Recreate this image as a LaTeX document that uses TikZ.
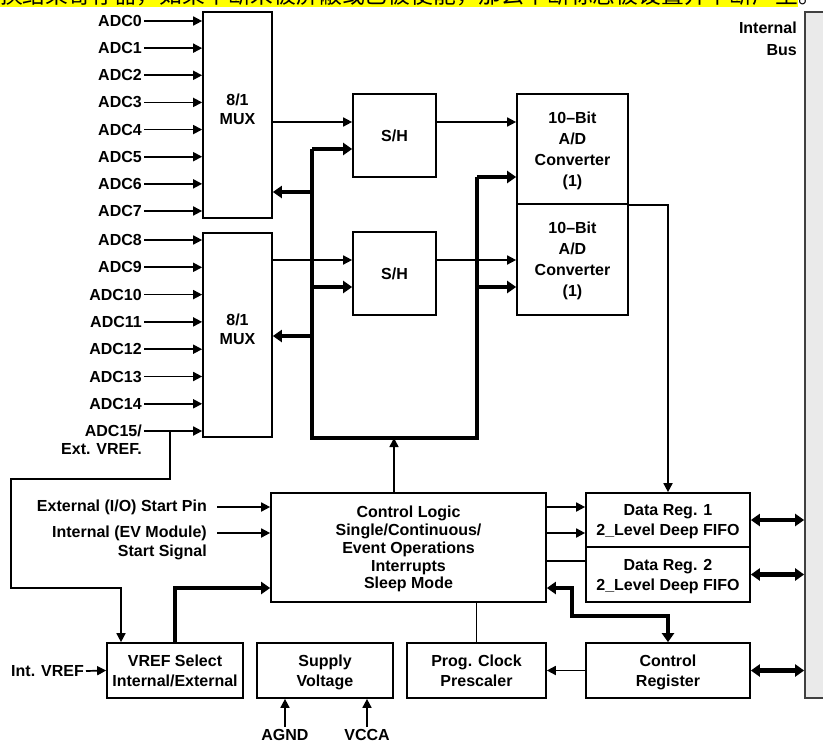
\documentclass[tikz,border=0pt]{standalone}
\usepackage{fontspec}
\setmainfont{Liberation Sans}
\newfontfamily\cjk{Noto Sans CJK SC}
\usetikzlibrary{positioning, arrows.meta, calc}
\definecolor{notecolor}{RGB}{255, 255, 0}
\definecolor{buscolor}{RGB}{234, 234, 234}
\newcommand{\diagfont}{\bfseries\fontsize{16}{19}\selectfont}

\begin{document}
\begin{tikzpicture}[x=1pt, y=-1pt,
    blk/.style={draw, line width=1.7pt, inner sep=0pt, align=center, font=\diagfont},
    lbl/.style={inner sep=2pt, font=\diagfont},
    sig/.style={line width=1.7pt, -{Triangle[length=9pt, width=9pt]}},
    wire/.style={line width=1.7pt},
    fat/.style={line width=4.2pt, -{Triangle[length=9pt, width=12pt]}},
    fatwire/.style={line width=4.2pt},
    fatboth/.style={line width=4.2pt, {Triangle[length=9pt, width=12pt]}-{Triangle[length=9pt, width=12pt]}}]
  \useasboundingbox (0,0) rectangle (823,742);

  % cut-off note line at the top
  \fill[notecolor] (0,0) rectangle (798,7);
  \begin{scope}
    \clip (0,0) rectangle (823,7);
    \node[anchor=base west, inner sep=0pt, font=\cjk\fontsize{22.8}{22.8}\selectfont] (note) at (0,3.5)
      {换结果寄存器，如果中断未被屏蔽或已被使能，那么中断标志被设置并中断产生。};
  \end{scope}

  % multiplexers, sample/hold, converters
  \node[blk, minimum width=69pt, minimum height=206pt, text depth=12pt] (mux1) at (237.5,115) {8/1\\MUX};
  \node[blk, minimum width=69pt, minimum height=204pt, text depth=12pt] (mux2) at (237.5,335) {8/1\\MUX};
  \node[blk, minimum width=83pt, minimum height=83pt] (sh1) at (394.5,135.5) {S/H};
  \node[blk, minimum width=83pt, minimum height=83pt] (sh2) at (394.5,273.5) {S/H};
  \node[blk, minimum width=111pt, minimum height=110pt, text depth=-9pt, font=\bfseries\fontsize{16}{21}\selectfont]
    (adc1) at (572.5,149) {10–Bit\\A/D\\Converter\\(1)};
  \node[blk, minimum width=111pt, minimum height=111pt, text depth=-9pt, font=\bfseries\fontsize{16}{21}\selectfont]
    (adc2) at (572.5,259.5) {10–Bit\\A/D\\Converter\\(1)};

  % control part
  \node[blk, minimum width=275pt, minimum height=109pt, text depth=-9.5pt, font=\bfseries\fontsize{16}{17.75}\selectfont]
    (ctl) at (408.5,547.5) {Control Logic\\Single/Continuous/\\Event Operations\\Interrupts\\Sleep Mode};
  \node[blk, minimum width=164pt, minimum height=54pt, text depth=-5pt, font=\bfseries\fontsize{16}{20}\selectfont]
    (dr1) at (668,520) {Data Reg. 1\\2\_Level Deep FIFO};
  \node[blk, minimum width=164pt, minimum height=55pt, text depth=-5pt, font=\bfseries\fontsize{16}{20}\selectfont]
    (dr2) at (668,574.5) {Data Reg. 2\\2\_Level Deep FIFO};
  \node[blk, minimum width=136pt, minimum height=55pt, text depth=-6pt, font=\bfseries\fontsize{16}{20}\selectfont]
    (vref) at (175,670.5) {VREF Select\\Internal/External};
  \node[blk, minimum width=136pt, minimum height=55pt, text depth=-6pt, font=\bfseries\fontsize{16}{20}\selectfont]
    (sup) at (325,670.5) {Supply\\Voltage};
  \node[blk, minimum width=139pt, minimum height=55pt, text depth=-6pt, font=\bfseries\fontsize{16}{20}\selectfont]
    (pre) at (476.5,670.5) {Prog. Clock\\Prescaler};
  \node[blk, minimum width=164pt, minimum height=55pt, text depth=-6pt, font=\bfseries\fontsize{16}{20}\selectfont]
    (creg) at (668,670.5) {Control\\Register};

  % internal bus
  \node[draw=black!75, fill=buscolor, line width=1.7pt, minimum width=30pt, minimum height=686pt,
        inner sep=0pt] (bus) at (820,355) {};
  \node[lbl, anchor=north east, align=right, font=\bfseries\fontsize{16}{22}\selectfont]
    (buslbl) at (799,20) {Internal\\Bus};

  % analog inputs
  \foreach \i in {0,...,7} {
    \node[lbl, anchor=east] (in\i) at (144,{21+27.14*\i}) {ADC\i};
    \draw[sig] (in\i.east) -- (in\i.east -| mux1.west);
  }
  \foreach \i in {8,...,14} {
    \node[lbl, anchor=east] (in\i) at (144,{240+27.3*(\i-8)}) {ADC\i};
    \draw[sig] (in\i.east) -- (in\i.east -| mux2.west);
  }
  \node[lbl, anchor=east] (in15) at (144,431) {ADC15/};
  \node[lbl, anchor=east] (xvref) at (144,449) {Ext. VREF.};
  \draw[sig] (in15.east) -- (in15.east -| mux2.west);
  \coordinate (tap) at (in15.east -| 170,0);
  \draw[sig] (tap) -- (170,479) -- (11,479) -- (11,588) -| ([xshift=-54pt]vref.north);

  % signal path
  \draw[sig] (mux1.east |- 0,122) -- (sh1.west |- 0,122);
  \draw[sig] (sh1.east |- 0,122) -- (adc1.west |- 0,122);
  \draw[sig] (mux2.east |- 0,260) -- (sh2.west |- 0,260);
  \draw[sig] (sh2.east |- 0,260) -- (adc2.west |- 0,260);
  \draw[sig] (adc1.south east) -| (dr1.north);

  % control bus
  \coordinate (bustl) at (312,149);
  \coordinate (busbl) at (312,438);
  \coordinate (busbr) at (477,438);
  \coordinate (bustr) at (477,177);
  \draw[fatwire] (bustl) -- (busbl) -- (busbr) -- (bustr);
  \draw[fat] (bustl) -- (sh1.west |- bustl);
  \draw[fat] (312,287) -- (sh2.west |- 0,287);
  \draw[fat] (312,192) -- (mux1.east |- 0,192);
  \draw[fat] (312,336) -- (mux2.east |- 0,336);
  \draw[fat] (bustr) -- (adc1.west |- bustr);
  \draw[fat] (477,287) -- (adc2.west |- 0,287);
  \draw[sig] (ctl.north -| 394,0) -- (busbl -| 394,0);

  % start signals and reference
  \node[lbl, anchor=east] (exstart) at (209,507) {External (I/O) Start Pin};
  \node[lbl, anchor=east] (evstart) at (209,533) {Internal (EV Module)};
  \node[lbl, anchor=east] (evsig) at (209,552) {Start Signal};
  \draw[sig] ([xshift=8pt]exstart.east) -- (exstart.east -| ctl.west);
  \draw[sig] ([xshift=8pt]evstart.east) -- (evstart.east -| ctl.west);
  \draw[fat] (vref.north) |- (ctl.west |- 0,588);
  \node[lbl, anchor=east] (intvref) at (86,671) {Int. VREF};
  \draw[sig] (intvref.east) -- (vref.west);
  \node[lbl, anchor=north] (agnd) at (285,727) {AGND};
  \node[lbl, anchor=north] (vcca) at (367,727) {VCCA};
  \draw[sig] (agnd.north) -- (agnd.north |- sup.south);
  \draw[sig] (vcca.north) -- (vcca.north |- sup.south);

  % control logic outputs
  \draw[sig] (ctl.east |- 0,507) -- (dr1.west |- 0,507);
  \draw[sig] (ctl.east |- 0,533) -- (dr1.west |- 0,533);
  \draw[wire] (ctl.east |- 0,561) -- (dr2.west |- 0,561);
  \draw[wire] (pre.north) -- (pre.north |- ctl.south);
  \draw[sig] (creg.west) -- (pre.east);
  \draw[fatboth] (ctl.east |- 0,588) -| (572,616) -| (creg.north);

  % bus connections
  \draw[fatboth] (dr1.east) -- (dr1.east -| bus.west);
  \draw[fatboth] (dr2.east) -- (dr2.east -| bus.west);
  \draw[fatboth] (creg.east) -- (creg.east -| bus.west);
\end{tikzpicture}
\end{document}
